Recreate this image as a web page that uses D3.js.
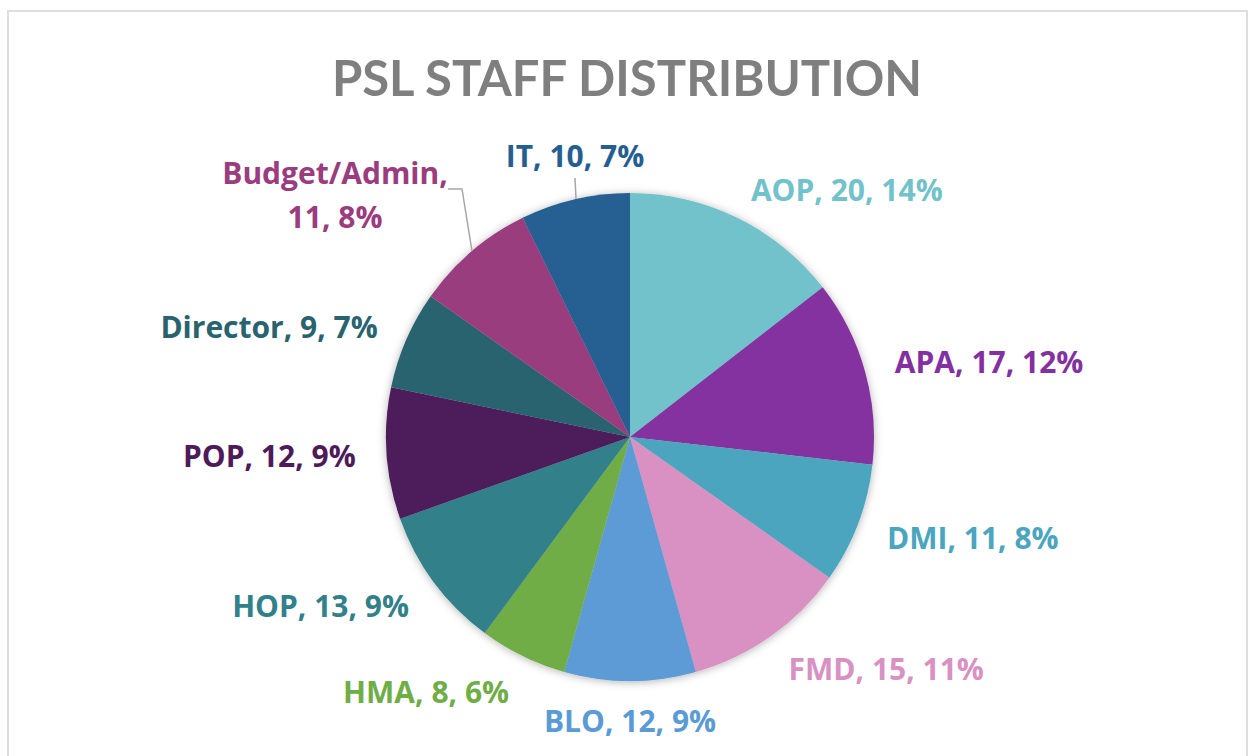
<!DOCTYPE html>
<html>
<head>
<meta charset="utf-8">
<script src="https://cdn.jsdelivr.net/npm/d3@7"></script>
<style>
  body { margin: 0; background: #fff; }
  svg { display: block; font-family: "Open Sans", Lato, sans-serif; }
</style>
</head>
<body>
<svg></svg>
<script>
const width = 1249
const height = 756

// chart data, clockwise from 12 o'clock
const categories = ["AOP", "APA", "DMI", "FMD", "BLO", "HMA", "HOP", "POP", "Director", "Budget/Admin", "IT"]
const staff = [20, 17, 11, 15, 12, 8, 13, 12, 9, 11, 10]
const sliceColors = ["#72c2cb", "#8430a0", "#4ba5bf", "#d891c2", "#5b9bd5", "#70ad47",
  "#31808a", "#4e1a5a", "#2a6370", "#9a3c7e", "#255e91"]
const title = "PSL STAFF DISTRIBUTION"

draw()

function draw() {
  const svg = d3.select("svg")
    .attr("width", width)
    .attr("height", height)

  // chart frame
  svg.append("rect")
    .attr("x", 8).attr("y", 11)
    .attr("width", 1239).attr("height", 780)
    .attr("fill", "#fff")
    .attr("stroke", "#dedede")
    .attr("stroke-width", 2)

  svg.append("text")
    .attr("x", 627)
    .attr("y", 96)
    .attr("text-anchor", "middle")
    .attr("font-family", "Lato, sans-serif")
    .attr("font-size", 49)
    .attr("font-weight", 700)
    .attr("fill", "#7f7f7f")
    .text(title)

  const defs = svg.append("defs")
  const shadow = defs.append("filter")
    .attr("id", "shadow")
    .attr("x", "-20%").attr("y", "-20%")
    .attr("width", "140%").attr("height", "140%")
  shadow.append("feDropShadow")
    .attr("dx", 0).attr("dy", 1)
    .attr("stdDeviation", 4)
    .attr("flood-color", "#000")
    .attr("flood-opacity", 0.3)

  const cx = 630, cy = 437, r = 244
  const total = d3.sum(staff)

  const color = d3.scaleOrdinal().domain(categories).range(sliceColors)
  const pie = d3.pie().sort(null).value(d => d.value)
  const arc = d3.arc().innerRadius(0).outerRadius(r)
  const data = categories.map((c, i) => ({ name: c, value: staff[i] }))
  const arcs = pie(data)

  const g = svg.append("g").attr("transform", `translate(${cx},${cy})`)

  g.append("g")
    .attr("filter", "url(#shadow)")
    .selectAll("path")
    .data(arcs)
    .enter()
    .append("path")
    .attr("d", arc)
    .attr("fill", d => color(d.data.name))

  // labels pushed further out by Excel, with leader lines
  const moved = {
    "IT": { x: -55, y: -281, anchor: "middle", line: [[-54, -238], [-55, -259]] },
    "Budget/Admin": { x: -295, y: -242, anchor: "middle", line: [[-158, -186], [-168, -248], [-182, -248]] }
  }

  const labels = g.append("g")
  arcs.forEach(d => {
    const mid = (d.startAngle + d.endAngle) / 2
    const s = Math.sin(mid), c = Math.cos(mid)
    const pct = d3.format(".0%")(d.data.value / total)
    const txt = d.data.name + ", " + d.data.value + ", " + pct
    let x = 275 * s
    let y = -275 * c + (c < 0 ? -9 * c : 0)
    let anchor = s > 0.3 ? "start" : (s < -0.3 ? "end" : "middle")
    let lines = [txt]
    const m = moved[d.data.name]
    if (m) {
      x = m.x; y = m.y; anchor = m.anchor
      if (d.data.name == "Budget/Admin")
        lines = [d.data.name + ",", d.data.value + ", " + pct]
      labels.append("path")
        .attr("d", d3.line()(m.line))
        .attr("fill", "none")
        .attr("stroke", "#a6a6a6")
        .attr("stroke-width", 1.5)
    }
    const t = labels.append("text")
      .attr("x", x)
      .attr("y", y)
      .attr("text-anchor", anchor)
      .attr("font-size", 30)
      .attr("font-weight", 700)
      .attr("fill", color(d.data.name))
    const gap = 44
    lines.forEach((l, i) => {
      t.append("tspan")
        .attr("x", x)
        .attr("dy", i == 0 ? (10.5 - (lines.length - 1) * gap / 2) : gap)
        .text(l)
    })
  })
}
</script>
</body>
</html>
